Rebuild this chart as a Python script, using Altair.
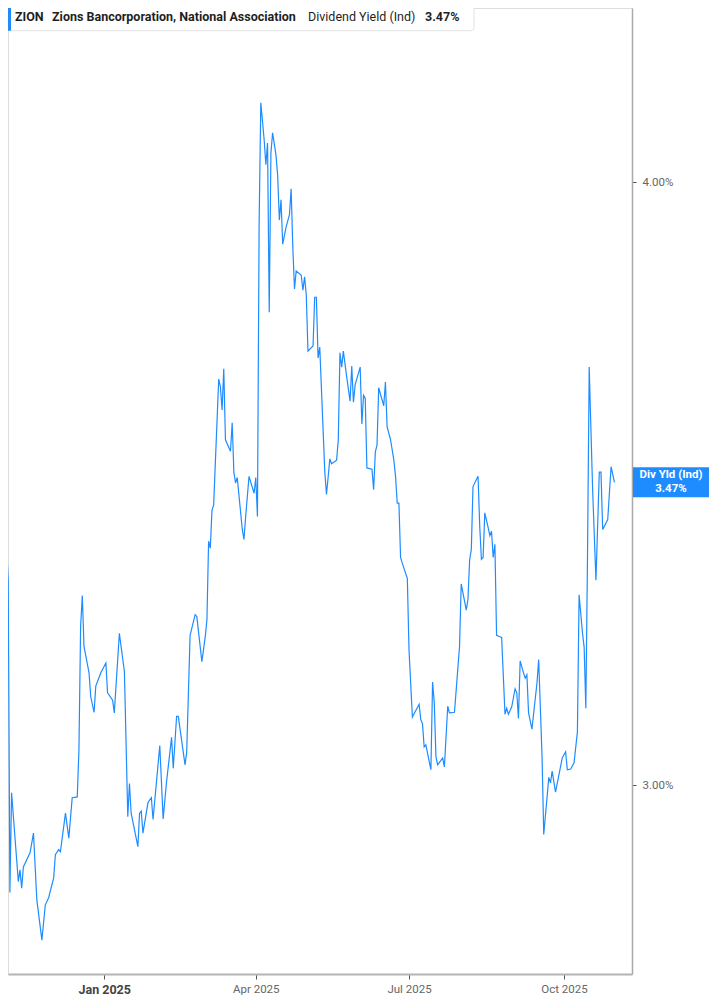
import altair as alt
import pandas as pd

# ---- data ----
dates = [
    "2024-10-31", "2024-11-01", "2024-11-04", "2024-11-05", "2024-11-06", "2024-11-07",
    "2024-11-11", "2024-11-12", "2024-11-13", "2024-11-14", "2024-11-18", "2024-11-20",
    "2024-11-22", "2024-11-25", "2024-11-27", "2024-11-29", "2024-12-02", "2024-12-03",
    "2024-12-05", "2024-12-06", "2024-12-09", "2024-12-11", "2024-12-13", "2024-12-16",
    "2024-12-17", "2024-12-18", "2024-12-19", "2024-12-20", "2024-12-23", "2024-12-24",
    "2024-12-26", "2024-12-27", "2024-12-30", "2025-01-02", "2025-01-03", "2025-01-06",
    "2025-01-07", "2025-01-10", "2025-01-13", "2025-01-15", "2025-01-16", "2025-01-17",
    "2025-01-21", "2025-01-22", "2025-01-23", "2025-01-24", "2025-01-27", "2025-01-29",
    "2025-01-30", "2025-02-03", "2025-02-05", "2025-02-07", "2025-02-10", "2025-02-11",
    "2025-02-13", "2025-02-14", "2025-02-18", "2025-02-19", "2025-02-21", "2025-02-24",
    "2025-02-25", "2025-02-28", "2025-03-02", "2025-03-03", "2025-03-04", "2025-03-05",
    "2025-03-06", "2025-03-07", "2025-03-10", "2025-03-11", "2025-03-12", "2025-03-13",
    "2025-03-14", "2025-03-17", "2025-03-18", "2025-03-19", "2025-03-20", "2025-03-21",
    "2025-03-24", "2025-03-25", "2025-03-26", "2025-03-28", "2025-03-31", "2025-04-01",
    "2025-04-02", "2025-04-03", "2025-04-04", "2025-04-06", "2025-04-07", "2025-04-08",
    "2025-04-09", "2025-04-10", "2025-04-11", "2025-04-13", "2025-04-14", "2025-04-15",
    "2025-04-16", "2025-04-17", "2025-04-19", "2025-04-21", "2025-04-22", "2025-04-23",
    "2025-04-24", "2025-04-25", "2025-04-28", "2025-04-29", "2025-04-30", "2025-05-01",
    "2025-05-02", "2025-05-05", "2025-05-06", "2025-05-07", "2025-05-08", "2025-05-09",
    "2025-05-12", "2025-05-13", "2025-05-15", "2025-05-16", "2025-05-19", "2025-05-20",
    "2025-05-21", "2025-05-22", "2025-05-23", "2025-05-25", "2025-05-27", "2025-05-28",
    "2025-05-29", "2025-05-30", "2025-06-02", "2025-06-03", "2025-06-04", "2025-06-05",
    "2025-06-06", "2025-06-09", "2025-06-10", "2025-06-11", "2025-06-12", "2025-06-13",
    "2025-06-16", "2025-06-17", "2025-06-18", "2025-06-20", "2025-06-22", "2025-06-23",
    "2025-06-24", "2025-06-25", "2025-06-26", "2025-06-27", "2025-06-30", "2025-07-01",
    "2025-07-03", "2025-07-07", "2025-07-08", "2025-07-09", "2025-07-10", "2025-07-11",
    "2025-07-14", "2025-07-15", "2025-07-16", "2025-07-17", "2025-07-18", "2025-07-21",
    "2025-07-22", "2025-07-24", "2025-07-25", "2025-07-28", "2025-07-31", "2025-08-01",
    "2025-08-04", "2025-08-05", "2025-08-06", "2025-08-07", "2025-08-08", "2025-08-11",
    "2025-08-12", "2025-08-13", "2025-08-14", "2025-08-15", "2025-08-17", "2025-08-18",
    "2025-08-19", "2025-08-20", "2025-08-21", "2025-08-22", "2025-08-24", "2025-08-25",
    "2025-08-27", "2025-08-28", "2025-08-29", "2025-08-31", "2025-09-02", "2025-09-03",
    "2025-09-04", "2025-09-05", "2025-09-07", "2025-09-08", "2025-09-09", "2025-09-10",
    "2025-09-12", "2025-09-15", "2025-09-16", "2025-09-18", "2025-09-19", "2025-09-21",
    "2025-09-22", "2025-09-23", "2025-09-24", "2025-09-26", "2025-09-30", "2025-10-02",
    "2025-10-03", "2025-10-05", "2025-10-07", "2025-10-09", "2025-10-10", "2025-10-12",
    "2025-10-13", "2025-10-14", "2025-10-15", "2025-10-16", "2025-10-18", "2025-10-20",
    "2025-10-22", "2025-10-23", "2025-10-24", "2025-10-27", "2025-10-29", "2025-10-31",
]

values = [
    3.304, 3.342, 3.362, 3.308, 2.850, 2.989,
    2.865, 2.881, 2.856, 2.885, 2.905, 2.932,
    2.840, 2.786, 2.833, 2.843, 2.870, 2.902,
    2.909, 2.906, 2.960, 2.925, 2.982, 2.983,
    3.051, 3.236, 3.284, 3.205, 3.165, 3.129,
    3.106, 3.145, 3.165, 3.180, 3.135, 3.124,
    3.105, 3.225, 3.167, 2.955, 3.002, 2.960,
    2.913, 2.960, 2.963, 2.932, 2.975, 2.982,
    2.951, 3.057, 2.952, 3.004, 3.069, 3.024,
    3.100, 3.100, 3.029, 3.048, 3.222, 3.254,
    3.251, 3.182, 3.220, 3.246, 3.370, 3.359,
    3.420, 3.429, 3.641, 3.628, 3.588, 3.659,
    3.537, 3.518, 3.566, 3.483, 3.465, 3.474,
    3.389, 3.373, 3.410, 3.476, 3.448, 3.474,
    3.410, 3.923, 4.154, 4.081, 4.033, 4.075,
    3.759, 4.056, 4.095, 4.052, 4.013, 3.928,
    3.966, 3.883, 3.915, 3.938, 3.987, 3.878,
    3.801, 3.834, 3.826, 3.799, 3.823, 3.790,
    3.690, 3.699, 3.786, 3.786, 3.678, 3.697,
    3.483, 3.446, 3.505, 3.497, 3.503, 3.537,
    3.687, 3.662, 3.690, 3.645, 3.603, 3.664,
    3.601, 3.631, 3.662, 3.564, 3.613, 3.608,
    3.490, 3.488, 3.454, 3.517, 3.528, 3.626,
    3.595, 3.636, 3.559, 3.538, 3.503, 3.476,
    3.432, 3.432, 3.344, 3.335, 3.311, 3.200,
    3.099, 3.118, 3.095, 3.089, 3.055, 3.058,
    3.022, 3.151, 3.120, 3.041, 3.029, 3.039,
    3.026, 3.115, 3.105, 3.106, 3.205, 3.302,
    3.261, 3.278, 3.340, 3.357, 3.459, 3.476,
    3.394, 3.341, 3.344, 3.416, 3.392, 3.379,
    3.386, 3.344, 3.365, 3.222, 3.220, 3.219,
    3.103, 3.112, 3.103, 3.114, 3.141, 3.135,
    3.097, 3.183, 3.165, 3.157, 3.162, 3.105,
    3.081, 3.150, 3.185, 3.041, 2.930, 2.983,
    3.011, 3.003, 3.020, 2.990, 3.039, 3.048,
    3.022, 3.023, 3.032, 3.077, 3.285, 3.226,
    3.204, 3.112, 3.347, 3.662, 3.457, 3.308,
    3.483, 3.483, 3.389, 3.405, 3.492, 3.466,
]

x_tick_dates = [(2025, 1, 1), (2025, 4, 1), (2025, 7, 1), (2025, 10, 1)]
y_tick_values = [3.0, 4.0]
x_domain = [(2024, 11, 4, 21), (2025, 11, 10, 10)]
y_domain = [2.7414, 4.3462]

header_ticker = "ZION"
header_name = "Zions Bancorporation, National Association"
header_metric = "Dividend Yield (Ind)"
header_value = "3.47%"
badge_title = "Div Yld (Ind)"
badge_value = "3.47%"

# ---- chart ----
W, H = 624, 966
BLUE = "#1E8CFF"
FONT = "Roboto"
BADGE_W = 76
BADGE_X = W + 1 + BADGE_W / 2

df = pd.DataFrame({"date": pd.to_datetime(dates), "value": values})
last = pd.DataFrame({"value": [values[-1]], "t1": [badge_title], "t2": [badge_value]})

xscale = alt.Scale(
    domain=[alt.DateTime(year=y, month=m, date=d, hours=h) for (y, m, d, h) in x_domain]
)
yscale = alt.Scale(type="log", domain=y_domain, nice=False, zero=False)

xaxis = alt.Axis(
    title=None,
    values=[alt.DateTime(year=y, month=m, date=d) for (y, m, d) in x_tick_dates],
    format="%b %Y",
    grid=False,
    labelFont=FONT,
    labelFontSize={"condition": {"test": "month(datum.value) == 0", "value": 12.5}, "value": 11.5},
    labelFontWeight={"condition": {"test": "month(datum.value) == 0", "value": "bold"}, "value": "normal"},
    labelColor={"condition": {"test": "month(datum.value) == 0", "value": "#444444"}, "value": "#666666"},
    labelPadding=4,
    labelFlush=False,
    tickColor="#555555",
    tickSize=5,
    tickWidth=1,
    domainColor="#b4b4b4",
    domainWidth=2,
)
yaxis = alt.Axis(
    title=None,
    orient="right",
    values=y_tick_values,
    labelExpr="format(datum.value, '.2f') + '%'",
    grid=False,
    labelFont=FONT,
    labelFontSize=11.5,
    labelColor="#666666",
    labelPadding=6,
    tickColor="#555555",
    tickSize=4,
    tickWidth=1,
    domainColor="#aaaaaa",
    domainWidth=1.5,
)

line = alt.Chart(df).mark_line(color=BLUE, strokeWidth=1.2, clip=True).encode(
    x=alt.X("date:T", scale=xscale, axis=xaxis),
    y=alt.Y("value:Q", scale=yscale, axis=yaxis),
)

one = pd.DataFrame({"k": [0]})
header_box = alt.Chart(one).mark_rect(
    fill="white", stroke="#e2e2e2", strokeWidth=1, cornerRadius=3
).encode(x=alt.value(0), x2=alt.value(466), y=alt.value(-3), y2=alt.value(22.7))
header_bar = alt.Chart(one).mark_rect(fill=BLUE).encode(
    x=alt.value(0), x2=alt.value(3), y=alt.value(-3), y2=alt.value(22.7)
)


def htext(label, xpos, weight):
    return alt.Chart(pd.DataFrame({"label": [label]})).mark_text(
        align="left", baseline="middle", font=FONT, fontSize=12.5,
        fontWeight=weight, color="#1f1f1f"
    ).encode(x=alt.value(xpos), y=alt.value(9), text="label:N")


badge = alt.Chart(last).mark_point(
    shape="M-1,-0.3947L1,-0.3947L1,0.3947L-1,0.3947Z",
    filled=True, fill=BLUE, strokeWidth=0, opacity=1, size=BADGE_W * BADGE_W,
).encode(x=alt.value(BADGE_X), y=alt.Y("value:Q", scale=yscale))
badge_t1 = alt.Chart(last).mark_text(
    align="center", baseline="middle", font=FONT, fontSize=11.5,
    fontWeight="bold", color="white", dy=-7
).encode(x=alt.value(BADGE_X), y=alt.Y("value:Q", scale=yscale), text="t1:N")
badge_t2 = alt.Chart(last).mark_text(
    align="center", baseline="middle", font=FONT, fontSize=11.5,
    fontWeight="bold", color="white", dy=7
).encode(x=alt.value(BADGE_X), y=alt.Y("value:Q", scale=yscale), text="t2:N")

chart = alt.layer(
    line,
    header_box,
    header_bar,
    htext(header_ticker, 7, "bold"),
    htext(header_name, 44, "bold"),
    htext(header_metric, 300, "normal"),
    htext(header_value, 417, "bold"),
    badge,
    badge_t1,
    badge_t2,
).properties(
    width=W,
    height=H,
    autosize=alt.AutoSizeParams(type="none"),
    padding={"left": 0, "top": 0, "right": 77, "bottom": 22},
).configure_view(stroke=None).configure(background="white")

chart.save("out.html", embed_options={"renderer": "svg", "actions": False})
